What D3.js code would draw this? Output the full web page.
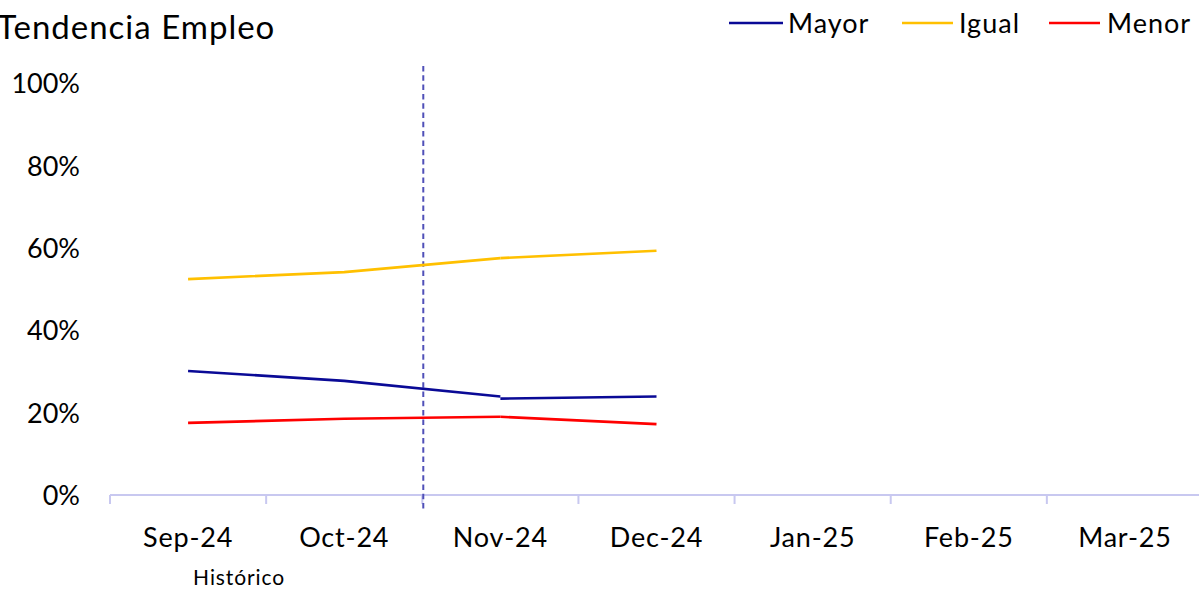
<!DOCTYPE html>
<html>
<head>
<meta charset="utf-8">
<script src="https://cdn.jsdelivr.net/npm/d3@7"></script>
<style>
  html, body { margin: 0; padding: 0; background: #fff; overflow: hidden; }
  svg { display: block; font-family: Lato, sans-serif; }
</style>
</head>
<body>
<div id="chart"></div>
<script>
// categorias y series (porcentajes)
var categories = ["Sep-24", "Oct-24", "Nov-24", "Dec-24", "Jan-25", "Feb-25", "Mar-25"];
var yTicks = [0, 0.2, 0.4, 0.6, 0.8, 1];

// historico (Sep-Nov) y proyeccion (Nov-Dec)
var mayorHist = [30.1, 27.7, 23.9, null, null, null, null];
var igualHist = [52.4, 54.1, 57.5, null, null, null, null];
var menorHist = [17.5, 18.5, 19.0, null, null, null, null];
var mayorProy = [null, null, 23.4, 23.9, null, null, null];
var igualProy = [null, null, 57.5, 59.3, null, null, null];
var menorProy = [null, null, 19.0, 17.2, null, null, null];

var seriesNames = ["Mayor", "Igual", "Menor"];
var colors = ["#0a0a96", "#ffc000", "#ff0000"];

var width = 1199, height = 589;

var svg = d3.select("#chart").append("svg")
    .attr("width", width)
    .attr("height", height);

var x = d3.scaleBand()
    .domain(categories)
    .range([110, 1203]);

var y = d3.scaleLinear()
    .domain([0, 1])
    .range([495, 83]);

// eje y: solo etiquetas
var yAxis = svg.append("g")
    .attr("transform", "translate(80,0)")
    .call(d3.axisLeft(y).tickValues(yTicks).tickSize(0).tickPadding(0).tickFormat(d3.format(".0%")));
yAxis.select(".domain").remove();
yAxis.selectAll("text")
    .attr("dy", "0.36em")
    .style("font-family", "Lato, sans-serif")
    .style("font-size", "27px")
    .style("fill", "#000");

// eje x
var axisColor = "#c8c8f0";
var xAxis = svg.append("g")
    .attr("transform", "translate(0,495)")
    .call(d3.axisBottom(x).tickSize(0).tickPadding(0));
xAxis.select(".domain").remove();
xAxis.selectAll("text")
    .attr("y", 52)
    .attr("dy", 0)
    .style("font-family", "Lato, sans-serif")
    .style("font-size", "27px")
    .style("letter-spacing", "0.8px")
    .style("fill", "#000");

xAxis.append("line")
    .attr("x1", x.range()[0])
    .attr("x2", x.range()[1])
    .attr("y1", 0).attr("y2", 0)
    .attr("stroke", axisColor)
    .attr("stroke-width", 2);

var bounds = categories.map(function (c) { return x(c); }).concat([x.range()[1]]);
xAxis.selectAll(".bound")
    .data(bounds)
    .enter().append("line")
    .attr("class", "bound")
    .attr("x1", function (d) { return d; })
    .attr("x2", function (d) { return d; })
    .attr("y1", 0).attr("y2", 9)
    .attr("stroke", axisColor)
    .attr("stroke-width", 2);

// linea divisoria historico / proyeccion
var divX = x("Nov-24") + 1;
svg.append("line")
    .attr("x1", divX).attr("x2", divX)
    .attr("y1", 66).attr("y2", 511)
    .attr("stroke", "#5050b8")
    .attr("stroke-width", 2)
    .attr("stroke-dasharray", "5.5,3.8");

svg.append("text")
    .attr("x", x("Sep-24") + x.bandwidth() / 2 + 51)
    .attr("y", 585)
    .attr("text-anchor", "middle")
    .style("font-size", "21px")
    .style("letter-spacing", "0.9px")
    .text("Histórico");

// lineas
var line = d3.line()
    .defined(function (d) { return d.v != null; })
    .x(function (d) { return x(d.c) + x.bandwidth() / 2; })
    .y(function (d) { return y(d.v / 100); });

function toPoints(arr) {
    return categories.map(function (c, i) { return {c: c, v: arr[i]}; });
}

var allSeries = [
    {vals: igualHist, color: colors[1]},
    {vals: igualProy, color: colors[1]},
    {vals: mayorHist, color: colors[0]},
    {vals: mayorProy, color: colors[0]},
    {vals: menorHist, color: colors[2]},
    {vals: menorProy, color: colors[2]}
];

svg.selectAll(".serie")
    .data(allSeries)
    .enter().append("path")
    .attr("class", "serie")
    .attr("d", function (d) { return line(toPoints(d.vals)); })
    .attr("fill", "none")
    .attr("stroke", function (d) { return d.color; })
    .attr("stroke-width", 2.6)
    .attr("stroke-linejoin", "round");

// titulo (recortado a la izquierda como en el original)
svg.append("text")
    .attr("x", -3)
    .attr("y", 39)
    .style("font-size", "33px")
    .style("letter-spacing", "1px")
    .style("fill", "#000")
    .text("Tendencia Empleo");

// leyenda
var legendPos = [
    {x1: 729, x2: 783, tx: 788},
    {x1: 902, x2: 953, tx: 959},
    {x1: 1049, x2: 1100, tx: 1107}
];
var legend = svg.selectAll(".leg")
    .data(seriesNames)
    .enter().append("g")
    .attr("class", "leg");
legend.append("line")
    .attr("x1", function (d, i) { return legendPos[i].x1; })
    .attr("x2", function (d, i) { return legendPos[i].x2; })
    .attr("y1", 23).attr("y2", 23)
    .attr("stroke", function (d, i) { return colors[i]; })
    .attr("stroke-width", 2.6);
legend.append("text")
    .attr("x", function (d, i) { return legendPos[i].tx; })
    .attr("y", 33)
    .style("font-size", "27px")
    .style("letter-spacing", "1px")
    .text(function (d) { return d; });
</script>
</body>
</html>
